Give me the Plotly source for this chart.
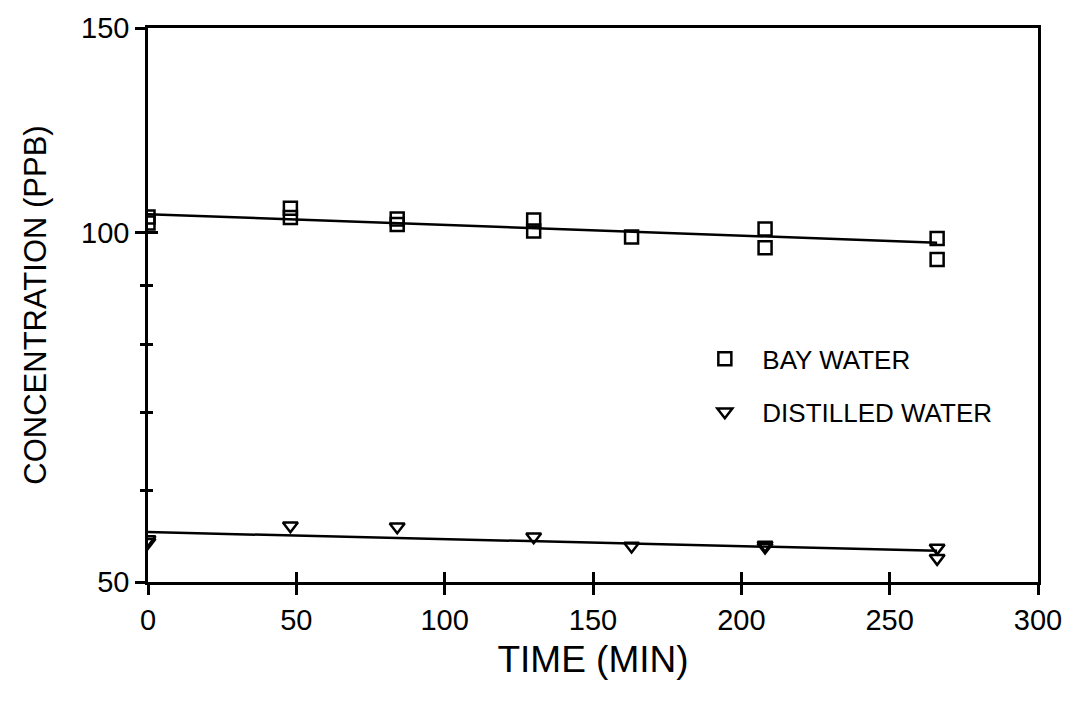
import plotly.graph_objects as go

# ---- data ----
bay_time = [0, 0, 48, 48, 84, 84, 130, 130, 163, 208, 208, 266, 266]
bay_conc = [103.1, 101.9, 104.9, 103.0, 102.7, 101.6, 102.5, 100.3, 99.1, 100.7, 97.0, 98.8, 94.8]

dist_time = [0, 0, 48, 84, 130, 163, 208, 208, 266, 266]
dist_conc = [54.4, 54.1, 55.9, 55.8, 54.7, 53.7, 53.8, 53.6, 53.5, 52.4]

fit_time = [0, 266]
bay_fit = [103.7, 98.0]
dist_fit = [55.2, 53.2]

x_ticks = [0, 50, 100, 150, 200, 250, 300]
y_ticks = [50, 100, 150]
y_minor = [60, 70, 80, 90]

FONT = "Liberation Sans, Arial, Helvetica, sans-serif"
BLACK = "black"

fig = go.Figure()

# invisible trace on a twin subplot (same domain) that carries the inside half of the crossing ticks
fig.add_trace(go.Scatter(x=[bay_time[0]], y=[bay_conc[0]], xaxis="x2", yaxis="y2",
                         mode="markers", marker=dict(opacity=0, size=1),
                         showlegend=False, hoverinfo="skip"))

fig.add_trace(go.Scatter(x=fit_time, y=bay_fit, mode="lines",
                         line=dict(color=BLACK, width=2.5), showlegend=False, hoverinfo="skip"))
fig.add_trace(go.Scatter(x=fit_time, y=dist_fit, mode="lines",
                         line=dict(color=BLACK, width=2.5), showlegend=False, hoverinfo="skip"))

fig.add_trace(go.Scatter(x=bay_time, y=bay_conc, mode="markers", name="BAY WATER",
                         legendgroup="a",
                         marker=dict(symbol="square-open", size=13, color=BLACK,
                                     line=dict(width=2.5, color=BLACK))))
fig.add_trace(go.Scatter(x=dist_time, y=dist_conc, mode="markers", name="DISTILLED WATER",
                         legendgroup="b",
                         marker=dict(symbol="triangle-down-open", size=13, color=BLACK,
                                     line=dict(width=2.5, color=BLACK))))

yr = [1.69897, 2.176091]

common_x = dict(range=[0, 300], tickvals=x_ticks, ticklen=10, tickwidth=2.5,
                tickcolor=BLACK, showgrid=False, zeroline=False, tickmode="array",
                domain=[0, 1])
common_y = dict(type="log", range=yr, tickvals=y_ticks, ticklen=10, tickwidth=2.5,
                tickcolor=BLACK, showgrid=False, zeroline=False, tickmode="array",
                domain=[0, 1])

fig.update_layout(
    width=1074, height=705,
    paper_bgcolor="white", plot_bgcolor="rgba(0,0,0,0)",
    margin=dict(l=148, r=31, t=22, b=123),
    font=dict(family=FONT, color=BLACK, size=28),
    xaxis=dict(**common_x, ticks="outside", showline=True, linecolor=BLACK, linewidth=2.5,
               mirror=True, ticktext=[str(v) for v in x_ticks], anchor="y",
               tickfont=dict(size=29),
               title=dict(text="TIME (MIN)", font=dict(size=37), standoff=12)),
    yaxis=dict(**common_y, ticks="outside", showline=True, linecolor=BLACK, linewidth=2.5,
               mirror=True, ticktext=[str(v) for v in y_ticks], anchor="x",
               tickfont=dict(size=29),
               minor=dict(tickvals=y_minor, ticks="outside", ticklen=5, tickwidth=2.5,
                          tickcolor=BLACK),
               title=dict(text="CONCENTRATION (PPB)", font=dict(size=31), standoff=26)),
    xaxis2=dict(**common_x, ticks="inside", showticklabels=False,
                showline=False, anchor="y2"),
    yaxis2=dict(**common_y, ticks="inside", showticklabels=False,
                showline=False, anchor="x2",
                minor=dict(tickvals=y_minor, ticks="inside", ticklen=5, tickwidth=2.5,
                           tickcolor=BLACK)),
    legend=dict(x=0.606, y=0.445, xanchor="left", yanchor="top",
                font=dict(size=26), bgcolor="rgba(0,0,0,0)",
                tracegroupgap=16, itemwidth=65),
    showlegend=True,
)

fig.write_html("out.html")
